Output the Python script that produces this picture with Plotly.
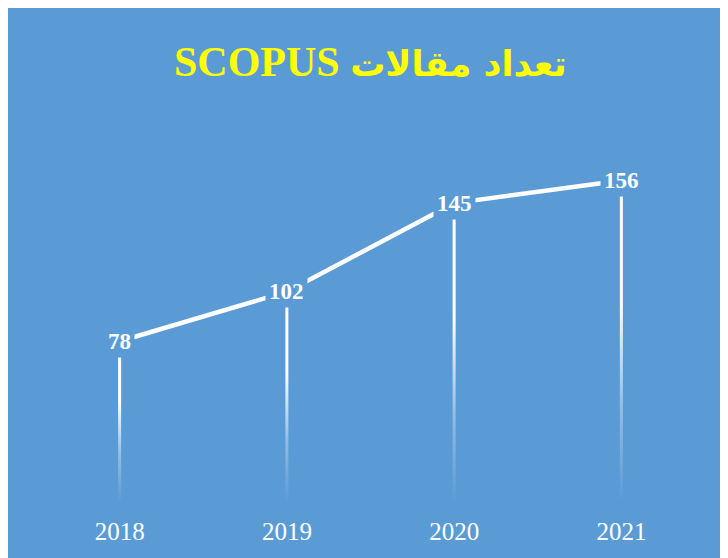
import plotly.graph_objects as go

years = ["2018", "2019", "2020", "2021"]
articles = [78, 102, 145, 156]
title_latin = "SCOPUS"
title_arabic = "تعداد مقالات"

BG = "#5B9BD5"
W, H = 728, 558
ML, MR, MT, MB = 28, 31, 123, 64
pw = W - ML - MR
ph = H - MT - MB

xs = list(range(len(years)))
fig = go.Figure()

# gradient drop lines
half = 0.009
for x, v in zip(xs, articles):
    fig.add_trace(go.Scatter(
        x=[x - half, x + half, x + half, x - half, x - half],
        y=[0, 0, v, v, 0],
        mode="lines", line=dict(width=0), fill="toself",
        fillgradient=dict(type="vertical",
                          colorscale=[[0, "rgba(255,255,255,0)"],
                                      [0.3, "rgba(255,255,255,0.35)"],
                                      [0.62, "rgba(255,255,255,1)"],
                                      [1, "rgba(255,255,255,1)"]]),
        hoverinfo="skip", showlegend=False))

# main line
fig.add_trace(go.Scatter(x=xs, y=articles, mode="lines",
                         line=dict(color="white", width=4.5),
                         showlegend=False))

# value labels masking the line
for x, v in zip(xs, articles):
    fig.add_annotation(x=x, y=v, text=f"<b>{v}</b>", showarrow=False,
                       xanchor="center", yanchor="middle",
                       font=dict(family="Liberation Serif", size=23, color="white"),
                       bgcolor=BG, borderpad=3)

# title (RTL: Arabic phrase on the right, SCOPUS on the left)
title_html = (f"<b>{title_latin} </b>"
              f"<span style='font-family:DejaVu Sans;font-size:35px'><b>{title_arabic}</b></span>")
fig.add_annotation(xref="paper", yref="paper",
                   x=(362 - ML) / pw, y=1 + (MT - 54) / ph,
                   text=title_html, showarrow=False,
                   xanchor="center", yanchor="middle",
                   font=dict(family="Liberation Serif, DejaVu Sans", size=42, color="#FFFF00"))

fig.update_layout(
    width=W, height=H,
    margin=dict(l=ML, r=MR, t=MT, b=MB),
    paper_bgcolor=BG, plot_bgcolor=BG,
    showlegend=False,
    xaxis=dict(range=[-0.5, len(years) - 0.5], tickvals=xs, ticktext=years,
               showgrid=False, zeroline=False, showline=False, ticks="",
               ticklabelstandoff=12,
               tickfont=dict(family="Liberation Serif", size=25, color="white")),
    yaxis=dict(range=[0, 180], visible=False, showgrid=False, zeroline=False),
)

fig.write_html("out.html")
